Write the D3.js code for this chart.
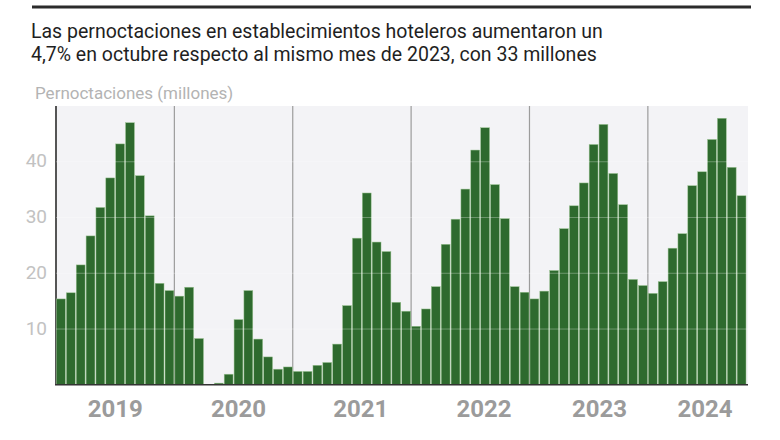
<!DOCTYPE html>
<html>
<head>
<meta charset="utf-8">
<script src="https://cdn.jsdelivr.net/npm/d3@7"></script>
<style>
  body { margin: 0; background: #fff; }
  text { font-family: Roboto, "Noto Sans", sans-serif; }
</style>
</head>
<body>
<svg id="chart" width="780" height="440"></svg>
<script>
// monthly overnight stays (millions), Jan 2019 - Oct 2024
var years = [2019, 2020, 2021, 2022, 2023, 2024];
var v2019 = [15.4, 16.5, 21.5, 26.7, 31.8, 37.1, 43.2, 47.0, 37.5, 30.3, 18.2, 16.9];
var v2020 = [15.9, 17.5, 8.3, 0, 0.3, 1.9, 11.7, 16.9, 8.2, 5.0, 2.8, 3.2];
var v2021 = [2.4, 2.4, 3.5, 4.0, 7.3, 14.2, 26.3, 34.4, 25.6, 23.9, 14.8, 13.2];
var v2022 = [10.5, 13.6, 17.6, 25.2, 29.7, 35.1, 42.1, 46.1, 35.9, 29.8, 17.6, 16.6];
var v2023 = [15.4, 16.8, 20.5, 28.0, 32.1, 36.2, 43.1, 46.7, 37.9, 32.3, 18.9, 17.8];
var v2024 = [16.4, 18.5, 24.5, 27.1, 35.7, 38.2, 44.0, 47.8, 39.0, 33.9];
var yTicks = [10, 20, 30, 40];
// where the year labels sit, in months from Jan 2019
var yearLabelAt = [6, 18.5, 30.9, 43.4, 55.1, 65.8];

var values = [].concat(v2019, v2020, v2021, v2022, v2023, v2024);
var data = values.map(function(v, i){ return {i: i, value: v}; });

var svg = d3.select("#chart");
var plotL = 56, plotR = 746.5, plotT = 106, plotB = 384.8;

var x = d3.scaleBand()
  .domain(d3.range(values.length))
  .range([plotL, plotR])
  .padding(0);
var step = x.step();
var xm = d3.scaleLinear().domain([0, values.length]).range([plotL, plotR]);

var y = d3.scaleLinear().domain([0, 50]).range([plotB, plotT]);

// top rule
svg.append("line")
  .attr("x1", 32).attr("x2", 751)
  .attr("y1", 7).attr("y2", 7)
  .attr("stroke", "#2b2b2b").attr("stroke-width", 3);

// title
var title = svg.append("text").attr("x", 31).attr("y", 38)
  .attr("font-size", 19.5).attr("fill", "#1f1f1f");
title.append("tspan").attr("x", 31).text("Las pernoctaciones en establecimientos hoteleros aumentaron un");
title.append("tspan").attr("x", 31).attr("dy", 23).text("4,7% en octubre respecto al mismo mes de 2023, con 33 millones");

svg.append("text")
  .attr("x", 35).attr("y", 99)
  .attr("font-size", 17).attr("fill", "#b3b3b3")
  .text("Pernoctaciones (millones)");

// plot background
svg.append("rect")
  .attr("x", plotL).attr("y", plotT)
  .attr("width", 748 - plotL).attr("height", plotB - plotT)
  .attr("fill", "#f3f3f6");

// year separators
svg.selectAll(".yearline")
  .data(years)
  .enter().append("line")
  .attr("class", "yearline")
  .attr("x1", function(d, i){ return xm(i * 12); })
  .attr("x2", function(d, i){ return xm(i * 12); })
  .attr("y1", plotT).attr("y2", plotB)
  .attr("stroke", function(d, i){ return i === 0 ? "#555" : "#9c9c9c"; })
  .attr("stroke-width", function(d, i){ return i === 0 ? 2 : 1.2; });

// bars
svg.selectAll(".bar")
  .data(data)
  .enter().append("rect")
  .attr("class", "bar")
  .attr("x", function(d){ return x(d.i) + 0.5; })
  .attr("width", step - 1)
  .attr("y", function(d){ return y(d.value); })
  .attr("height", function(d){ return plotB - y(d.value); })
  .attr("fill", "#2e6a2e")
  .attr("stroke", "#9cc493")
  .attr("stroke-width", 0.5);

// grid over bars
svg.selectAll(".grid")
  .data(yTicks)
  .enter().append("line")
  .attr("class", "grid")
  .attr("x1", plotL).attr("x2", 748)
  .attr("y1", function(d){ return y(d); })
  .attr("y2", function(d){ return y(d); })
  .attr("stroke", "rgba(255,255,255,0.3)")
  .attr("stroke-width", 1);

// y labels
svg.selectAll(".ylab")
  .data(yTicks)
  .enter().append("text")
  .attr("class", "ylab")
  .attr("x", 47)
  .attr("y", function(d){ return y(d); })
  .attr("dy", "0.3em")
  .attr("text-anchor", "end")
  .attr("font-size", 19)
  .attr("fill", "#c2c2c2")
  .text(function(d){ return d; });

// baseline
svg.append("line")
  .attr("x1", plotL - 1).attr("x2", 748)
  .attr("y1", plotB).attr("y2", plotB)
  .attr("stroke", "#333").attr("stroke-width", 1.5);

// year labels
svg.selectAll(".xlab")
  .data(years)
  .enter().append("text")
  .attr("class", "xlab")
  .attr("x", function(d, i){ return xm(yearLabelAt[i]); })
  .attr("y", 417)
  .attr("text-anchor", "middle")
  .attr("font-size", 24)
  .attr("font-weight", "bold")
  .attr("fill", "#9b9b9b")
  .text(function(d){ return d; });
</script>
</body>
</html>
